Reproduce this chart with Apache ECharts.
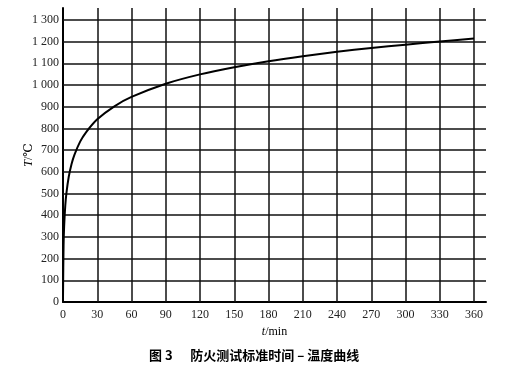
<!DOCTYPE html>
<html>
<head>
<meta charset="utf-8">
<script src="https://cdn.jsdelivr.net/npm/echarts@6/dist/echarts.min.js"></script>
<style>
  html, body { margin: 0; padding: 0; background: #fff; }
  #main { width: 521px; height: 377px; }
</style>
</head>
<body>
<div id="main"></div>
<script>
// 时间（min）与温度（℃）
var timeMin = [0, 0.5, 1, 2, 3, 5, 7.5, 10, 15, 20, 30, 45, 60, 90, 120, 150, 180, 210, 240, 270, 300, 330, 360];
var tempC = [20, 261, 349, 445, 502, 576, 636, 678, 739, 781, 842, 902, 945, 1006, 1049, 1082, 1110, 1133, 1153, 1171, 1186, 1201, 1214];

// 网格线
var xTicks = [0, 30, 60, 90, 120, 150, 180, 210, 240, 270, 300, 330, 360];
var yTicks = [0, 100, 200, 300, 400, 500, 600, 700, 800, 900, 1000, 1100, 1200, 1300];

var chart = echarts.init(document.getElementById('main'));

var serif = '"Liberation Serif", "DejaVu Serif", serif';

var curve = timeMin.map(function (t, i) {
  return [t, tempC[i]];
});

var gridLines = [];
xTicks.forEach(function (v) {
  if (v > 0) gridLines.push({ xAxis: v });
});
yTicks.forEach(function (v) {
  if (v > 0) gridLines.push({ yAxis: v });
});

var option = {
  animation: false,
  title: {
    text: '图 3      防火测试标准时间 – 温度曲线',
    left: 144,
    top: 344,
    textStyle: {
      fontFamily: '"Noto Sans CJK SC", sans-serif',
      fontWeight: 'bold',
      fontSize: 13,
      color: '#000'
    }
  },
  grid: {
    left: 63,
    right: 35,
    top: 8,
    bottom: 75
  },
  xAxis: {
    type: 'value',
    min: 0,
    max: 370.5,
    interval: 30,
    name: '{i|t}/min',
    nameLocation: 'middle',
    nameGap: 17,
    nameTextStyle: {
      fontFamily: serif,
      fontSize: 12,
      color: '#000',
      rich: {
        i: { fontStyle: 'italic', fontFamily: serif, fontSize: 12, color: '#000' }
      }
    },
    axisLine: { lineStyle: { color: '#000', width: 2 } },
    axisTick: { show: false },
    splitLine: { show: false },
    axisLabel: {
      margin: 7,
      fontFamily: serif,
      fontSize: 12,
      color: '#222',
      formatter: function (v) {
        return xTicks.indexOf(v) >= 0 ? String(v) : '';
      }
    }
  },
  yAxis: {
    type: 'value',
    min: 0,
    max: 1355,
    interval: 100,
    name: '{i|T}/℃',
    nameLocation: 'middle',
    nameGap: 28,
    nameRotate: 90,
    nameMoveOverlap: false,
    nameTextStyle: {
      fontFamily: serif,
      fontSize: 12,
      color: '#000',
      rich: {
        i: { fontStyle: 'italic', fontFamily: serif, fontSize: 12, color: '#000' }
      }
    },
    axisLine: { show: true, lineStyle: { color: '#000', width: 2 } },
    axisTick: { show: false },
    splitLine: { show: false },
    axisLabel: {
      margin: 4,
      fontFamily: serif,
      fontSize: 12,
      color: '#222',
      formatter: function (v) {
        if (yTicks.indexOf(v) < 0) return '';
        return v >= 1000 ? Math.floor(v / 1000) + ' ' + String(v % 1000).padStart(3, '0') : String(v);
      }
    }
  },
  series: [
    {
      type: 'line',
      data: curve,
      smooth: 0.3,
      symbol: 'none',
      lineStyle: { color: '#000', width: 2 },
      z: 3,
      markLine: {
        silent: true,
        symbol: 'none',
        label: { show: false },
        lineStyle: { color: '#111', width: 1.5, type: 'solid' },
        data: gridLines,
        z: 1
      }
    }
  ]
};

chart.setOption(option);
</script>
</body>
</html>
